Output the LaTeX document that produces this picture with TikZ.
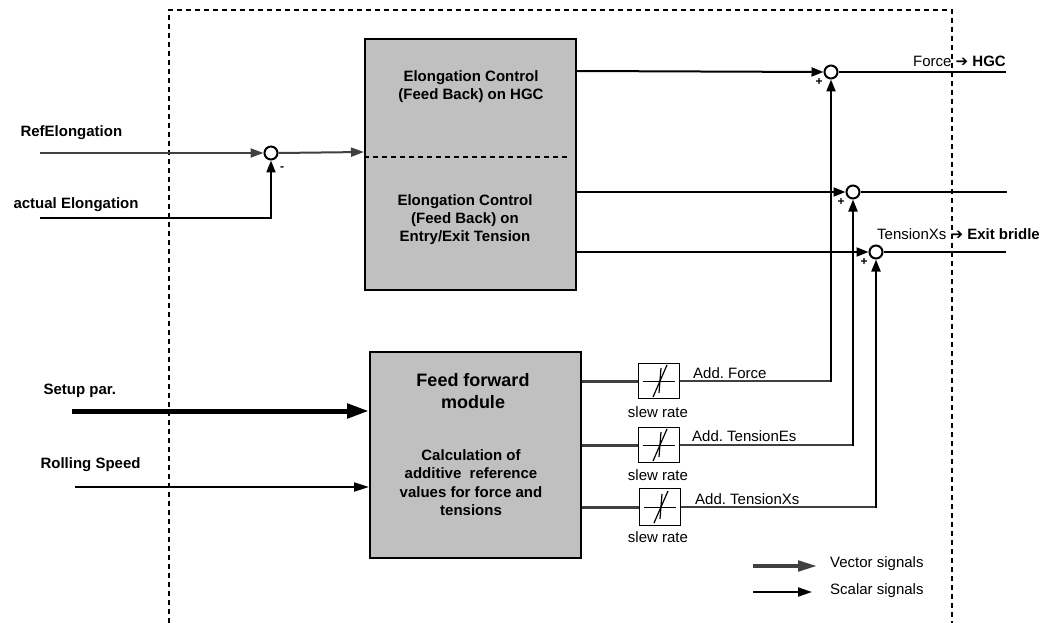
\documentclass[tikz,border=0pt]{standalone}
\usepackage{fontspec}
\setmainfont{Liberation Sans}
\newfontfamily\arrowfont{DejaVu Sans}
\usetikzlibrary{arrows.meta}
\definecolor{boxgray}{RGB}{192,192,192}
\definecolor{vecgray}{RGB}{64,64,64}
\newcommand{\thickarrow}{{\arrowfont\bfseries ➔}}
\frenchspacing
\begin{document}
\begin{tikzpicture}[x=1pt,y=-1pt,
  every node/.style={font=\fontsize{15}{18}\selectfont},
  sumnode/.style={circle,draw,line width=2pt,fill=white,minimum size=13pt,inner sep=0pt},
  blockbox/.style={draw,line width=2pt,fill=boxgray,inner sep=0pt},
  slewbox/.style={draw,line width=1.8pt,fill=white,minimum width=41pt,minimum height=35pt,inner sep=0pt},
  scalar/.style={line width=2pt,-{Triangle[length=12pt,width=9pt]}},
  plainline/.style={line width=2pt},
  refline/.style={line width=2pt,draw=vecgray,-{Triangle[length=13pt,width=9pt]}},
  vecline/.style={line width=3pt,draw=vecgray},
  bold/.style={font=\fontsize{15}{18}\selectfont\bfseries},
  sign/.style={font=\fontsize{12}{12}\selectfont\bfseries,inner sep=0pt},
  frame/.style={line width=1.5pt,dash pattern=on 5pt off 4pt}
]
\useasboundingbox (0,0) rectangle (1047,623);

% dashed frame
\draw[frame] (169,623) -- (169,10) -- (952,10) -- (952,623);

% main blocks
\node[blockbox,minimum width=211pt,minimum height=251pt] (topbox) at (470.5,164.5) {};
\draw[line width=2pt,dash pattern=on 5pt off 4pt] (topbox.west |- 0,157) -- (570,157);
\node[bold,align=center] (toptxt1) at (471,87) {Elongation Control\\(Feed Back) on HGC};
\node[bold,align=center] (toptxt2) at (465,220) {Elongation Control\\(Feed Back) on\\Entry/Exit Tension};

\node[blockbox,minimum width=211pt,minimum height=206pt] (ffbox) at (475.5,455) {};
\node[align=center,font=\fontsize{18}{22}\selectfont\bfseries] (fftxt1) at (473,391) {Feed forward\\module};
\node[bold,align=center,font=\fontsize{15}{18.3}\selectfont\bfseries] (fftxt2) at (471,482.5) {Calculation of\\additive\ \ reference\\values for force and\\tensions};

% summing points
\node[sumnode] (sumE) at (271,153) {};
\node[sumnode] (sum1) at (831,72) {};
\node[sumnode] (sum2) at (853,192) {};
\node[sumnode] (sum3) at (876,252) {};
\node[sign] (mE) at (282,169) {-};
\node[sign] (p1) at (819,82) {+};
\node[sign] (p2) at (841,202) {+};
\node[sign] (p3) at (864,262) {+};

% slew rate blocks
\node[slewbox] (slew1) at (659,381) {};
\node[slewbox] (slew2) at (659,445) {};
\node[slewbox,minimum height=37pt] (slew3) at (660,507) {};
\foreach \s in {slew1,slew2,slew3}{
  \draw[line width=1pt] ([shift={(-16,0)}]\s.center) -- ([shift={(16,0)}]\s.center);
  \draw[line width=1.2pt] ([shift={(-6,16)}]\s.center) -- ([shift={(8,-16)}]\s.center);
  \draw[line width=1.2pt] ([shift={(2,-13)}]\s.center) -- ([shift={(0,12)}]\s.center);
}
\node (sr1) at (658,412) {slew rate};
\node (sr2) at (658,475) {slew rate};
\node (sr3) at (658,537) {slew rate};

% inputs left
\coordinate (refin) at (40,153);
\coordinate (actin) at (40,218);
\coordinate (setin) at (72,411);
\coordinate (rollin) at (75,487);
\node[bold,anchor=west] (lref) at (17,133) {RefElongation};
\node[bold,anchor=west] (lact) at (10,205) {actual Elongation};
\node[bold,anchor=west] (lset) at (40,391) {Setup par.};
\node[bold,anchor=west] (lroll) at (37,465) {Rolling Speed};

\draw[refline] (refin) -- (sumE.west);
\draw[scalar] (actin) -| (sumE.south);
\draw[refline] (sumE.east) -- (topbox.west |- 0,152);
\draw[line width=5pt,-{Triangle[length=22pt,width=14pt]}] (setin) -- (ffbox.west |- setin);
\draw[line width=2pt,-{Triangle[length=15pt,width=9pt]}] (rollin) -- (ffbox.west |- rollin);

% feedback block outputs
\draw[scalar] (topbox.east |- 0,71) -- (sum1.west);
\draw[scalar] (topbox.east |- sum2.west) -- (sum2.west);
\draw[scalar] (topbox.east |- sum3.west) -- (sum3.west);

% sum outputs
\coordinate (out1) at (1006,72);
\coordinate (out2) at (1007,192);
\coordinate (out3) at (1006,252);
\draw[plainline] (sum1.east) -- (out1);
\draw[plainline] (sum2.east) -- (out2);
\draw[plainline] (sum3.east) -- (out3);
\node[anchor=base east,inner sep=0pt] (lforce) at (1006,67) {Force \thickarrow\ \textbf{HGC}};
\node[anchor=base west,inner sep=0pt] (ltxs) at (877,239) {TensionXs \thickarrow\ \textbf{Exit bridle}};

% feed forward outputs
\draw[vecline] (ffbox.east |- slew1) -- (slew1.west);
\draw[vecline] (ffbox.east |- slew2) -- (slew2.west);
\draw[vecline] (ffbox.east |- slew3) -- (slew3.west);

\draw[line width=2.5pt,draw=vecgray] (slew1.east) -- (sum1 |- slew1);
\draw[line width=2.5pt,draw=vecgray] (slew2.east) -- (sum2 |- slew2);
\draw[line width=2.5pt,draw=vecgray] (slew3.east) -- (sum3 |- slew3);
\draw[scalar] ([yshift=-1.2pt]sum1 |- slew1) -- (sum1.south);
\draw[scalar] ([yshift=-1.2pt]sum2 |- slew2) -- (sum2.south);
\draw[scalar] ([yshift=-1.2pt]sum3 |- slew3) -- (sum3.south);
\node[anchor=base west,inner sep=0pt] (laf) at (693,378) {Add. Force};
\node[anchor=base west,inner sep=0pt] (lae) at (692,441) {Add. TensionEs};
\node[anchor=base west,inner sep=0pt] (lax) at (695,504) {Add. TensionXs};

% legend
\coordinate (v1) at (753,566);
\coordinate (v2) at (818,566);
\coordinate (s1) at (753,592);
\coordinate (s2) at (812,592);
\draw[line width=4.5pt,draw=vecgray,-{Triangle[length=20pt,width=10pt]}] (v1) -- (v2);
\draw[line width=2pt,-{Triangle[length=14pt,width=9pt]}] (s1) -- (s2);
\node[anchor=west,inner sep=0pt] (lvec) at (830,564) {Vector signals};
\node[anchor=west,inner sep=0pt] (lsca) at (830,591) {Scalar signals};
\end{tikzpicture}
\end{document}
